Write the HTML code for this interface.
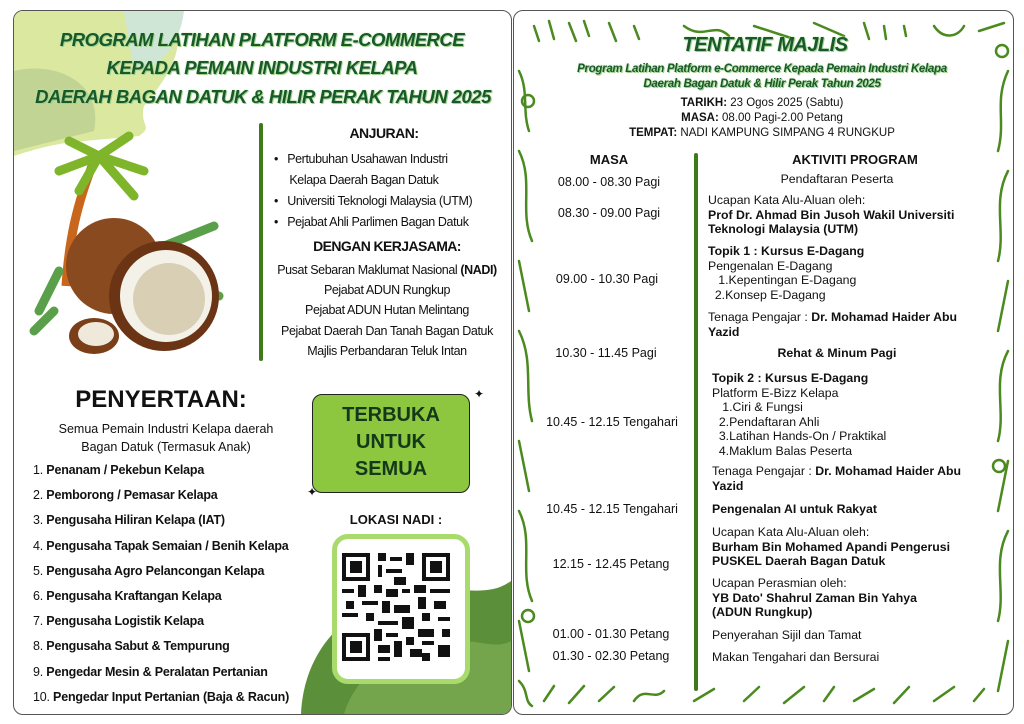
<!DOCTYPE html>
<html><head><meta charset="utf-8">
<style>
body{margin:0;width:1024px;height:724px;background:#fff;position:relative;overflow:hidden;font-family:"Liberation Sans",sans-serif;color:#111}
.t{position:absolute;white-space:nowrap;line-height:16px}
.c{transform:translateX(-50%)}
.ttl{font-weight:bold;font-style:italic;color:#17592a;text-shadow:1px 1px 0 #9fd18a,0 0 2px #c8e6b0;letter-spacing:-0.5px}
.b{font-weight:bold}
.panel{position:absolute;border:1px solid #555;border-radius:10px;background:#fff;overflow:hidden}
</style></head><body>

<div class="panel" style="left:13px;top:10px;width:497px;height:703px">
<svg width="497" height="703" style="position:absolute;left:0;top:0">
<path d="M0 0 H160 C175 40 150 70 130 95 C125 115 140 115 125 125 L70 130 C40 132 15 140 0 145Z" fill="#dbe8a0"/>
<path d="M0 60 C40 50 90 70 80 120 L0 140Z" fill="#b7cc8e" opacity=".7"/>
<path d="M110 0 H170 C165 40 140 60 120 60 Z" fill="#cfe6d7"/>
<path d="M287 703 C290 640 330 600 380 585 C440 570 470 590 497 570 V703Z" fill="#5b8f3a"/>
<path d="M330 703 C340 670 370 640 420 630 C460 625 480 640 497 630 V703Z" fill="#86b358" opacity=".6"/>
<path d="M52 275 C55 230 62 195 80 150" stroke="#c8661c" stroke-width="9" fill="none"/>
<path d="M85 145 L45 160 M85 145 L55 130 M85 145 L115 125 M85 145 L130 160 M85 145 L120 185 M85 145 L65 180" stroke="#7fb52a" stroke-width="9" stroke-linecap="round" fill="none"/>
<path d="M45 260 L25 300 M150 235 L200 215 M155 270 L205 285 M40 300 L20 320" stroke="#5aa04a" stroke-width="9" stroke-linecap="round"/>
<circle cx="100" cy="255" r="48" fill="#8a4a20"/>
<circle cx="150" cy="285" r="55" fill="#6b3515"/>
<circle cx="152" cy="285" r="46" fill="#f4f1e8"/>
<circle cx="155" cy="288" r="36" fill="#d8cfb5"/>
<ellipse cx="80" cy="325" rx="25" ry="18" fill="#7a3e18"/>
<ellipse cx="82" cy="323" rx="18" ry="12" fill="#eee9da"/>
</svg>
</div>
<div class="panel" style="left:513px;top:10px;width:499px;height:703px">
<svg width="499" height="703" style="position:absolute;left:0;top:0" fill="none" stroke="#4a8a1e" stroke-width="2.5" stroke-linecap="round">
<path d="M20 15 L25 30 M35 10 L40 28 M55 12 L62 30 M70 10 L75 25 M95 12 L102 30 M120 15 L125 28 M170 15 C190 30 200 10 215 25 M240 15 L280 28 M300 12 L330 25 M350 12 L355 28 M370 15 L372 28 M390 15 L392 25 M420 15 C430 30 445 25 450 15 M465 20 L490 12"/>
<path d="M5 60 C15 80 8 100 15 120 M5 140 C20 170 5 200 18 230 M5 250 L15 300 M5 320 C20 350 10 380 18 410 M5 430 L15 480 M5 500 C20 530 5 560 18 590 M5 610 L15 660 M5 670 C15 680 10 690 18 695"/>
<path d="M494 60 C480 90 492 110 484 140 M494 160 C478 190 492 220 484 250 M494 270 L484 320 M494 340 C478 370 492 400 484 430 M494 450 L484 500 M494 520 C478 550 492 580 484 610 M494 630 L484 680"/>
<path d="M30 690 L40 675 M55 692 L70 675 M85 690 L100 676 M120 690 C130 675 140 690 150 680 M180 690 L200 678 M230 690 L245 676 M270 692 L290 676 M310 690 L320 676 M340 690 L360 678 M380 692 L395 676 M420 690 L440 676 M460 690 L470 678"/>
<circle cx="14" cy="90" r="6"/><circle cx="488" cy="40" r="6"/><circle cx="485" cy="455" r="6"/><circle cx="14" cy="605" r="6"/>
</svg>
</div>

<!-- LEFT -->
<div class="t c ttl" style="left:262px;top:29px;font-size:18.5px;line-height:22px">PROGRAM LATIHAN PLATFORM E-COMMERCE</div>
<div class="t c ttl" style="left:262px;top:57px;font-size:18.5px;line-height:22px">KEPADA PEMAIN INDUSTRI KELAPA</div>
<div class="t c ttl" style="left:263px;top:86px;font-size:18.5px;line-height:22px">DAERAH BAGAN DATUK &amp; HILIR PERAK TAHUN 2025</div>

<div style="position:absolute;left:259px;top:123px;width:4px;height:238px;background:#3f7a1a;border-radius:2px"></div>
<div class="t c b" style="left:384px;top:125px;font-size:14px;letter-spacing:-0.5px">ANJURAN:</div>
<div class="t" style="left:274px;top:149px;font-size:12.5px;line-height:21px;letter-spacing:-0.4px">•&nbsp;&nbsp;&nbsp;Pertubuhan Usahawan Industri<br>&nbsp;&nbsp;&nbsp;&nbsp;&nbsp;Kelapa Daerah Bagan Datuk<br>•&nbsp;&nbsp;&nbsp;Universiti Teknologi Malaysia (UTM)<br>•&nbsp;&nbsp;&nbsp;Pejabat Ahli Parlimen Bagan Datuk</div>
<div class="t c b" style="left:387px;top:238px;font-size:14px;letter-spacing:-0.6px">DENGAN KERJASAMA:</div>
<div class="t c" style="left:387px;top:260px;font-size:12.5px;line-height:20.2px;text-align:center;letter-spacing:-0.4px">Pusat Sebaran Maklumat Nasional <b>(NADI)</b><br>Pejabat ADUN Rungkup<br>Pejabat ADUN Hutan Melintang<br>Pejabat Daerah Dan Tanah Bagan Datuk<br>Majlis Perbandaran Teluk Intan</div>

<div class="t c b" style="left:161px;top:386px;font-size:24px;line-height:28px">PENYERTAAN:</div>
<div class="t c" style="left:166px;top:420px;font-size:12.5px;line-height:18px;text-align:center">Semua Pemain Industri Kelapa daerah<br>Bagan Datuk (Termasuk Anak)</div>
<div class="t b" style="left:33px;top:458px;font-size:12.5px;line-height:25.2px;letter-spacing:-0.2px">
<span style="font-weight:normal">1.</span> Penanam / Pekebun Kelapa<br>
<span style="font-weight:normal">2.</span> Pemborong / Pemasar Kelapa<br>
<span style="font-weight:normal">3.</span> Pengusaha Hiliran Kelapa (IAT)<br>
<span style="font-weight:normal">4.</span> Pengusaha Tapak Semaian / Benih Kelapa<br>
<span style="font-weight:normal">5.</span> Pengusaha Agro Pelancongan Kelapa<br>
<span style="font-weight:normal">6.</span> Pengusaha Kraftangan Kelapa<br>
<span style="font-weight:normal">7.</span> Pengusaha Logistik Kelapa<br>
<span style="font-weight:normal">8.</span> Pengusaha Sabut &amp; Tempurung<br>
<span style="font-weight:normal">9.</span> Pengedar Mesin &amp; Peralatan Pertanian<br>
<span style="font-weight:normal">10.</span> Pengedar Input Pertanian (Baja &amp; Racun)</div>

<div style="position:absolute;left:312px;top:394px;width:156px;height:97px;background:#8dc63f;border:1.5px solid #222;border-radius:10px"></div>
<div class="t c b" style="left:391px;top:402px;font-size:20px;line-height:27px;text-align:center;color:#14391a">TERBUKA<br>UNTUK<br>SEMUA</div>
<div class="t" style="left:474px;top:386px;font-size:12px">✦</div>
<div class="t" style="left:307px;top:484px;font-size:12px">✦</div>

<div class="t c b" style="left:396px;top:512px;font-size:13px">LOKASI NADI :</div>
<div style="position:absolute;left:332px;top:534px;width:128px;height:140px;border:5px solid #a9db6c;border-radius:16px;background:#fff"></div>
<svg style="position:absolute;left:342px;top:553px" width="108" height="108" viewBox="0 0 27 27">
<rect width="27" height="27" fill="#fff"/>
<g fill="#111">
<rect x="0" y="0" width="7" height="7"/><rect x="20" y="0" width="7" height="7"/><rect x="0" y="20" width="7" height="7"/>
</g>
<g fill="#fff"><rect x="1" y="1" width="5" height="5"/><rect x="21" y="1" width="5" height="5"/><rect x="1" y="21" width="5" height="5"/></g>
<g fill="#111"><rect x="2" y="2" width="3" height="3"/><rect x="22" y="2" width="3" height="3"/><rect x="2" y="22" width="3" height="3"/>
<path d="M9 0h2v2h-2zM12 1h3v1h-3zM16 0h2v3h-2zM9 3h1v3h-1zM11 4h4v1h-4zM13 6h3v2h-3zM8 8h2v2h-2zM0 9h3v1h-3zM4 8h2v3h-2zM11 9h3v2h-3zM15 9h2v1h-2zM18 8h3v2h-3zM22 9h5v1h-5zM1 12h2v2h-2zM5 12h4v1h-4zM10 12h2v3h-2zM13 13h4v2h-4zM19 11h2v3h-2zM23 12h3v2h-3zM0 15h4v1h-4zM6 15h2v2h-2zM9 17h5v1h-5zM15 16h3v3h-3zM20 15h2v2h-2zM24 16h3v1h-3zM8 19h2v3h-2zM11 20h3v1h-3zM19 19h4v2h-4zM25 19h2v2h-2zM9 23h3v2h-3zM13 22h2v4h-2zM16 21h2v2h-2zM20 22h3v1h-3zM24 23h3v3h-3zM17 24h3v2h-3zM9 26h3v1h-3zM20 25h2v2h-2z"/></g>
</svg>

<!-- RIGHT -->
<div class="t c ttl" style="left:765px;top:34px;font-size:20px;line-height:22px">TENTATIF MAJLIS</div>
<div class="t c ttl" style="left:762px;top:62px;font-size:11.5px;line-height:15px;text-align:center;letter-spacing:-0.3px">Program Latihan Platform e-Commerce Kepada Pemain Industri Kelapa<br>Daerah Bagan Datuk &amp; Hilir Perak Tahun 2025</div>
<div class="t c" style="left:762px;top:96px;font-size:11.5px;line-height:15px;text-align:center"><b>TARIKH:</b> 23 Ogos 2025 (Sabtu)<br><b>MASA:</b> 08.00 Pagi-2.00 Petang<br><b>TEMPAT:</b> NADI KAMPUNG SIMPANG 4 RUNGKUP</div>

<div class="t c b" style="left:609px;top:152px;font-size:13px">MASA</div>
<div class="t c b" style="left:855px;top:152px;font-size:13px">AKTIVITI PROGRAM</div>
<div style="position:absolute;left:694px;top:153px;width:4px;height:538px;background:#3f7a1a;border-radius:2px"></div>

<div class="t c" style="left:609px;top:174px;font-size:12.5px">08.00 - 08.30 Pagi</div>
<div class="t c" style="left:609px;top:205px;font-size:12.5px">08.30 - 09.00 Pagi</div>
<div class="t c" style="left:607px;top:271px;font-size:12.5px">09.00 - 10.30 Pagi</div>
<div class="t c" style="left:606px;top:345px;font-size:12.5px">10.30 - 11.45 Pagi</div>
<div class="t c" style="left:612px;top:414px;font-size:12.5px">10.45 - 12.15 Tengahari</div>
<div class="t c" style="left:612px;top:501px;font-size:12.5px">10.45 - 12.15 Tengahari</div>
<div class="t c" style="left:611px;top:556px;font-size:12.5px">12.15 - 12.45 Petang</div>
<div class="t c" style="left:611px;top:626px;font-size:12.5px">01.00 - 01.30 Petang</div>
<div class="t c" style="left:611px;top:648px;font-size:12.5px">01.30 - 02.30 Petang</div>

<div class="t c" style="left:837px;top:171px;font-size:12.3px">Pendaftaran Peserta</div>
<div class="t" style="left:708px;top:193px;font-size:12.3px;line-height:14.5px">Ucapan Kata Alu-Aluan oleh:<br><b>Prof Dr. Ahmad Bin Jusoh Wakil Universiti<br>Teknologi Malaysia (UTM)</b></div>
<div class="t" style="left:708px;top:244px;font-size:12.3px;line-height:14.5px"><b>Topik 1 : Kursus E-Dagang</b><br>Pengenalan E-Dagang<br>&nbsp;&nbsp;&nbsp;1.Kepentingan E-Dagang<br>&nbsp;&nbsp;2.Konsep E-Dagang</div>
<div class="t" style="left:708px;top:310px;font-size:12.3px;line-height:14.5px">Tenaga Pengajar : <b>Dr. Mohamad Haider Abu<br>Yazid</b></div>
<div class="t c b" style="left:837px;top:345px;font-size:12.3px">Rehat &amp; Minum Pagi</div>
<div class="t" style="left:712px;top:371px;font-size:12.3px;line-height:14.6px"><b>Topik 2 : Kursus E-Dagang</b><br>Platform E-Bizz Kelapa<br>&nbsp;&nbsp;&nbsp;1.Ciri &amp; Fungsi<br>&nbsp;&nbsp;2.Pendaftaran Ahli<br>&nbsp;&nbsp;3.Latihan Hands-On / Praktikal<br>&nbsp;&nbsp;4.Maklum Balas Peserta</div>
<div class="t" style="left:712px;top:464px;font-size:12.3px;line-height:14.5px">Tenaga Pengajar : <b>Dr. Mohamad Haider Abu<br>Yazid</b></div>
<div class="t b" style="left:712px;top:501px;font-size:12.3px">Pengenalan AI untuk Rakyat</div>
<div class="t" style="left:712px;top:525px;font-size:12.3px;line-height:14.5px">Ucapan Kata Alu-Aluan oleh:<br><b>Burham Bin Mohamed Apandi Pengerusi<br>PUSKEL Daerah Bagan Datuk</b></div>
<div class="t" style="left:712px;top:576px;font-size:12.3px;line-height:14.5px">Ucapan Perasmian oleh:<br><b>YB Dato' Shahrul Zaman Bin Yahya<br>(ADUN Rungkup)</b></div>
<div class="t" style="left:712px;top:627px;font-size:12.3px">Penyerahan Sijil dan Tamat</div>
<div class="t" style="left:712px;top:649px;font-size:12.3px">Makan Tengahari dan Bersurai</div>
</body></html>
